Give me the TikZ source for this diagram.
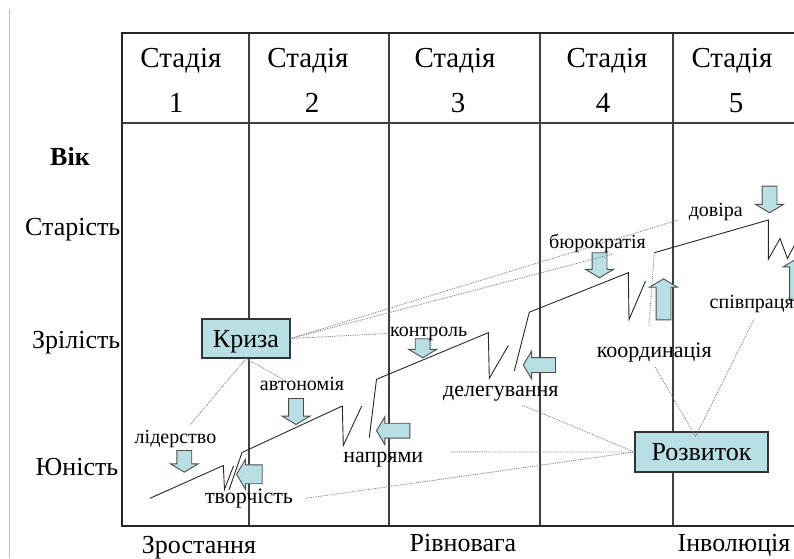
\documentclass[tikz,border=0pt]{standalone}
\usepackage{fontspec}
\setmainfont{Liberation Serif}
\usetikzlibrary{calc, shapes.arrows}

\definecolor{arrfill}{RGB}{184,223,227}
\definecolor{linkgray}{RGB}{115,115,115}

\begin{document}
\begin{tikzpicture}[x=1pt, y=-1pt,
	tableframe/.style={line width=2.6pt, black!85},
	gridline/.style={line width=1.1pt, black!75},
	growline/.style={line width=0.9pt, black!85},
	dotlink/.style={line width=0.8pt, linkgray, densely dotted},
	keybox/.style={draw=black!80, line width=1.1pt, fill=arrfill, minimum width=88pt, minimum height=39pt, inner sep=0pt, text height=17pt, text depth=0pt, font=\fontsize{26}{30}\selectfont},
	blockarr/.style={shape=single arrow, draw=black!70, line width=0.9pt, fill=arrfill, inner xsep=0pt, inner ysep=7pt, single arrow head extend=6.5pt, single arrow tip angle=118, anchor=tip},
	headtxt/.style={font=\fontsize{29}{34}\selectfont, anchor=base, inner sep=0pt},
	agetxt/.style={font=\fontsize{26}{30}\selectfont, anchor=base east, inner sep=0pt},
	phasetxt/.style={font=\fontsize{26}{30}\selectfont, anchor=base, inner sep=0pt},
	smalltxt/.style={font=\fontsize{20}{24}\selectfont, anchor=base, inner sep=1pt},
	midtxt/.style={font=\fontsize{22}{26}\selectfont, anchor=base, inner sep=1pt}
]

	\useasboundingbox (0,0) rectangle (794,558);
	\clip (0,0) rectangle (794,558);

	% table
	\draw[black!25, line width=0.8pt] (9.5,9) -- (9.5,558);
	\draw[gridline] (122,123) -- (800,123);
	\foreach \x in {249,389,540,673}
		\draw[gridline] (\x,33) -- (\x,526);
	\draw[tableframe] (800,33) -- (122,33) -- (122,526) -- (800,526);

	\foreach \x/\n/\xn in {181/1/176, 308/2/312, 455/3/458, 607/4/603, 732/5/736} {
		\node[headtxt] (stage\n) at (\x,67.5) {Стадія};
		\node[headtxt] (num\n) at (\xn,112.5) {\n};
	}

	\node[font=\bfseries\fontsize{26}{30}\selectfont, anchor=base, inner sep=0pt] (age) at (70,165.7) {Вік};
	\node[agetxt] (old) at (120.5,235) {Старість};
	\node[agetxt] (mature) at (120.5,348.3) {Зрілість};
	\node[agetxt] (young) at (118.5,475) {Юність};

	\node[phasetxt] (growth) at (199,553) {Зростання};
	\node[phasetxt] (balance) at (463,551.7) {Рівновага};
	\node[phasetxt] (involution) at (734,551.7) {Інволюція};

	% life curve
	\draw[growline] (150,498.3) -- (223.3,465.5) -- (224.5,489.3) -- (233.5,466);
	\draw[growline] (229,490) -- (242,452.5) -- (342.3,406) -- (343.3,445.5) -- (361.7,406);
	\draw[growline] (369.3,437.5) -- (376.5,379.3) -- (488.3,332.7) -- (489.3,378.3) -- (508.3,345.5);
	\draw[growline] (514.3,371) -- (529.3,312.2) -- (628.3,272.7) -- (629,319.5) -- (645.5,281);
	\draw[dotlink] (649,325.5) -- (654.3,252.7);
	\draw[growline] (654.3,252.7) -- (768.3,220) -- (768.3,259.3) -- (780,238.5) -- (787.5,258.5) -- (797,240);

	% arrows
	\node[blockarr, rotate=-90, minimum height=21.7pt] (arrLeader) at (184.3,472.7) {};
	\node[blockarr, rotate=-90, minimum height=26pt] (arrAutonomy) at (296,425) {};
	\node[blockarr, rotate=-90, minimum height=19pt] (arrControl) at (422.7,358.3) {};
	\node[blockarr, rotate=-90, minimum height=25pt] (arrBureau) at (599.5,278.3) {};
	\node[blockarr, rotate=-90, minimum height=26.6pt] (arrTrust) at (769.5,213.3) {};
	\node[blockarr, rotate=180, minimum height=25.7pt, inner ysep=9pt, single arrow head extend=5.5pt] (arrCreative) at (236,474.3) {};
	\node[blockarr, rotate=180, minimum height=33.3pt] (arrDirect) at (376,430.7) {};
	\node[blockarr, rotate=180, minimum height=32.3pt] (arrDelegate) at (522.7,365) {};
	\node[blockarr, rotate=90, minimum height=41pt] (arrCoord) at (663.5,278.3) {};
	\node[blockarr, rotate=90, minimum height=42pt] (arrCoop) at (797,258) {};

	% labels
	\node[keybox] (crisis) at (246,338.5) {Криза};
	\node[keybox, minimum width=133pt, minimum height=40pt] (develop) at (701.5,452) {Розвиток};

	\node[smalltxt] (leader) at (175.5,443) {лідерство};
	\node[midtxt] (creative) at (249,503.3) {творчість};
	\node[smalltxt] (autonomy) at (302,390.7) {автономія};
	\node[midtxt] (directions) at (383.3,462.7) {напрями};
	\node[smalltxt] (control) at (428.7,336) {контроль};
	\node[midtxt] (delegate) at (500.8,396) {делегування};
	\node[smalltxt] (bureau) at (597.5,248.3) {бюрократія};
	\node[smalltxt] (trust) at (715.8,216.7) {довіра};
	\node[midtxt] (coord) at (654.2,357.3) {координація};
	\node[smalltxt] (coop) at (751.7,308.3) {співпраця};

	% links
	\draw[dotlink] (crisis.south) -- ($(leader.north)+(14,-3)$);
	\draw[dotlink] (crisis.south) -- ($(autonomy.north)+(-12,7)$);
	\draw[dotlink] (crisis.east) -- (control.west);
	\draw[dotlink] (crisis.east) -- ($(bureau.south)+(16,0)$);
	\draw[dotlink] (crisis.east) -- ($(trust.south west)+(-10,-2)$);
	\draw[dotlink] (develop.west) -- ($(delegate.south)+(21,3)$);
	\draw[dotlink] (develop.west) -- ($(directions.east)+(26,-8)$);
	\draw[dotlink] (develop.west) -- ($(creative.east)+(11,0)$);
	\draw[dotlink] ($(develop.north)+(-6,5)$) -- ($(coord.south)+(1,4)$);
	\draw[dotlink] ($(develop.north)+(-6,5)$) -- ($(coop.south)+(2,6)$);

\end{tikzpicture}
\end{document}
